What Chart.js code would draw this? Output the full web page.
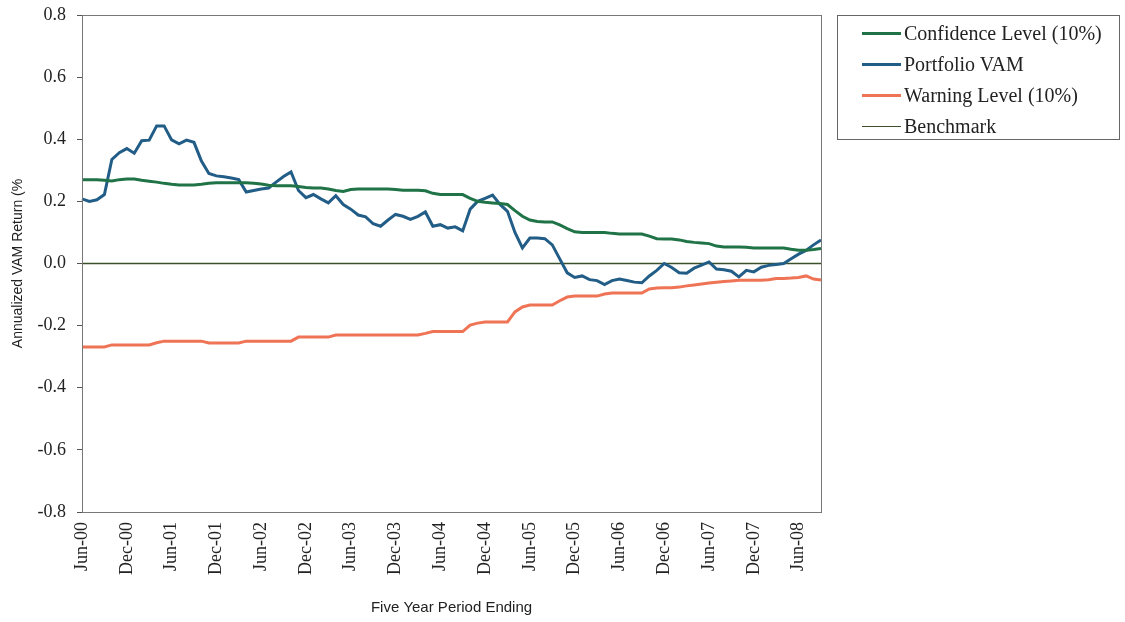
<!DOCTYPE html>
<html>
<head>
<meta charset="utf-8">
<script src="https://cdn.jsdelivr.net/npm/chart.js@4"></script>
<style>
  body { margin: 0; background: #fff; }
  #wrap { position: relative; width: 1125px; height: 622px; }
  #legendBox {
    position: absolute; left: 837px; top: 15px; width: 283px; height: 125px;
    border: 1px solid #666; box-sizing: border-box; padding-top: 2px;
    font-family: "Liberation Serif", serif; font-size: 20px; color: #222;
  }
  .row { display: flex; align-items: center; height: 31px; }
  .swatch { margin-left: 24px; width: 39px; margin-right: 3px; }
</style>
</head>
<body>
<div id="wrap">
  <canvas id="chart" width="1125" height="622"></canvas>
  <div id="legendBox"></div>
</div>
<script>
// ---------------- data ----------------
const monthNames = ["Jan","Feb","Mar","Apr","May","Jun","Jul","Aug","Sep","Oct","Nov","Dec"];
const categories = [];
for (let i = 0; i < 100; i++) {
  const m = (5 + i) % 12;
  const y = Math.floor((5 + i) / 12);
  categories.push(monthNames[m] + "-" + String(y).padStart(2, "0"));
}

const confidenceLevel = [
  0.270, 0.270, 0.270, 0.268, 0.266, 0.270, 0.272, 0.272, 0.268, 0.265,
  0.262, 0.258, 0.255, 0.253, 0.253, 0.253, 0.255, 0.258, 0.260, 0.260,
  0.260, 0.260, 0.260, 0.258, 0.256, 0.252, 0.250, 0.250, 0.250, 0.248,
  0.245, 0.243, 0.243, 0.240, 0.235, 0.232, 0.238, 0.240, 0.240, 0.240,
  0.240, 0.240, 0.238, 0.236, 0.236, 0.236, 0.234, 0.226, 0.222, 0.222,
  0.222, 0.222, 0.210, 0.200, 0.197, 0.195, 0.193, 0.190, 0.170, 0.152,
  0.140, 0.135, 0.134, 0.134, 0.124, 0.112, 0.102, 0.100, 0.100, 0.100,
  0.100, 0.097, 0.095, 0.095, 0.095, 0.095, 0.088, 0.080, 0.079, 0.079,
  0.076, 0.071, 0.068, 0.066, 0.064, 0.056, 0.053, 0.053, 0.053, 0.052,
  0.050, 0.050, 0.050, 0.050, 0.050, 0.046, 0.043, 0.043, 0.045, 0.048
];

const portfolioVAM = [
  0.208, 0.200, 0.205, 0.222, 0.335, 0.357, 0.370, 0.355, 0.395, 0.397,
  0.443, 0.443, 0.398, 0.385, 0.397, 0.390, 0.330, 0.290, 0.282, 0.279,
  0.275, 0.270, 0.230, 0.235, 0.240, 0.243, 0.262, 0.280, 0.295, 0.235,
  0.212, 0.222, 0.208, 0.195, 0.218, 0.190, 0.175, 0.156, 0.150, 0.128,
  0.120, 0.140, 0.158, 0.152, 0.142, 0.152, 0.166, 0.120, 0.125, 0.114,
  0.118, 0.105, 0.175, 0.200, 0.210, 0.220, 0.190, 0.168, 0.100, 0.050,
  0.082, 0.082, 0.080, 0.060, 0.015, -0.030, -0.045, -0.040, -0.052, -0.055,
  -0.068, -0.055, -0.050, -0.055, -0.060, -0.062, -0.040, -0.022, 0.000, -0.013,
  -0.030, -0.031, -0.015, -0.005, 0.005, -0.018, -0.020, -0.025, -0.043, -0.022,
  -0.027, -0.012, -0.006, -0.003, 0.000, 0.015, 0.030, 0.042, 0.060, 0.076
];

const warningLevel = [
  -0.269, -0.269, -0.269, -0.269, -0.262, -0.262, -0.262, -0.262, -0.262, -0.262,
  -0.255, -0.250, -0.250, -0.250, -0.250, -0.250, -0.250, -0.256, -0.256, -0.256,
  -0.256, -0.256, -0.250, -0.250, -0.250, -0.250, -0.250, -0.250, -0.250, -0.237,
  -0.237, -0.237, -0.237, -0.237, -0.230, -0.230, -0.230, -0.230, -0.230, -0.230,
  -0.230, -0.230, -0.230, -0.230, -0.230, -0.230, -0.225, -0.219, -0.219, -0.219,
  -0.219, -0.219, -0.198, -0.192, -0.188, -0.188, -0.188, -0.188, -0.156, -0.140,
  -0.134, -0.134, -0.134, -0.134, -0.120, -0.108, -0.105, -0.105, -0.105, -0.105,
  -0.098, -0.095, -0.095, -0.095, -0.095, -0.095, -0.082, -0.079, -0.078, -0.078,
  -0.076, -0.072, -0.069, -0.066, -0.063, -0.060, -0.058, -0.056, -0.054, -0.054,
  -0.054, -0.054, -0.052, -0.048, -0.048, -0.047, -0.045, -0.040, -0.050, -0.053
];

const benchmark = categories.map(() => 0);

const seriesNames = ["Confidence Level (10%)", "Portfolio VAM", "Warning Level (10%)", "Benchmark"];
const seriesColors = ["#1f7347", "#215d86", "#ee7455", "#3a4f2a"];
const seriesWidths = [3, 3, 3, 1.5];

// ---------------- chart ----------------
const frame = {
  id: "frame",
  afterDraw(chart) {
    const a = chart.chartArea, ctx = chart.ctx;
    ctx.save();
    ctx.strokeStyle = "#777";
    ctx.lineWidth = 1;
    ctx.strokeRect(Math.round(a.left) + 0.5, Math.round(a.top) + 0.5,
      Math.round(a.right - a.left), Math.round(a.bottom - a.top));
    ctx.restore();
  }
};

const allData = [confidenceLevel, portfolioVAM, warningLevel, benchmark];

new Chart(document.getElementById("chart"), {
  type: "line",
  data: {
    labels: categories,
    datasets: allData.map((d, i) => ({
      label: seriesNames[i],
      data: d,
      borderColor: seriesColors[i],
      borderWidth: seriesWidths[i],
      pointRadius: 0,
      tension: 0,
      fill: false
    }))
  },
  options: {
    responsive: false,
    animation: false,
    layout: { padding: { top: 15, right: 304, left: 0, bottom: 0 } },
    plugins: { legend: { display: false }, tooltip: { enabled: false } },
    scales: {
      x: {
        afterFit: s => { s.height = 110; s.paddingLeft = 0; s.paddingRight = 0; },
        grid: { drawOnChartArea: false, drawTicks: false },
        border: { color: "#666" },
        ticks: {
          autoSkip: false,
          minRotation: 90,
          maxRotation: 90,
          padding: 10,
          color: "#222",
          font: { family: "Liberation Serif", size: 18 },
          callback: (v, i) => (i % 6 === 0 ? categories[i] : "")
        },
        title: {
          display: true,
          text: "Five Year Period Ending",
          color: "#222",
          font: { family: "Liberation Sans", size: 15 },
          padding: { top: 0, bottom: 5 }
        }
      },
      y: {
        min: -0.8,
        max: 0.8,
        afterFit: s => { s.width = 82; s.paddingTop = 0; s.paddingBottom = 0; },
        grid: { drawOnChartArea: false, tickLength: 5, color: "#555" },
        border: { color: "#666" },
        ticks: {
          stepSize: 0.2,
          padding: 11,
          color: "#222",
          font: { family: "Liberation Serif", size: 18 },
          callback: v => (Math.abs(v) < 1e-9 ? "0.0" : v.toFixed(1))
        },
        title: {
          display: true,
          text: "Annualized VAM Return (%",
          color: "#222",
          font: { family: "Liberation Sans", size: 14 },
          padding: { top: 10, bottom: 0 }
        }
      }
    }
  },
  plugins: [frame]
});

// ---------------- legend ----------------
const box = document.getElementById("legendBox");
seriesNames.forEach((name, i) => {
  const row = document.createElement("div");
  row.className = "row";
  row.innerHTML = `<span class="swatch" style="border-top:${seriesWidths[i]}px solid ${seriesColors[i]}"></span><span>${name}</span>`;
  box.appendChild(row);
});
</script>
</body>
</html>
